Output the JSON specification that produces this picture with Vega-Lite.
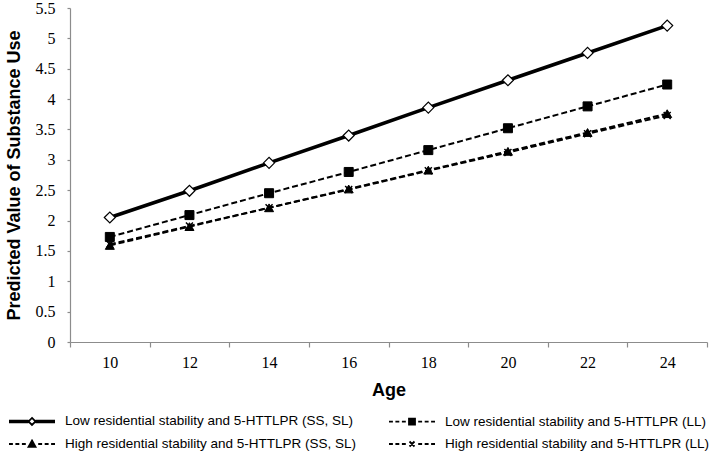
{
  "$schema": "https://vega.github.io/schema/vega-lite/v6.json",
  "autosize": "none",
  "width": 637,
  "height": 334,
  "padding": {"left": 70, "top": 8, "right": 7, "bottom": 114},
  "background": "white",
  "config": {
    "view": {"stroke": null},
    "axis": {
      "grid": false,
      "domainColor": "#8c8c8c",
      "tickColor": "#8c8c8c",
      "domainWidth": 1.2,
      "tickWidth": 1.2,
      "labelFont": "Liberation Serif",
      "labelFontSize": 16,
      "labelColor": "#000000",
      "titleFont": "Liberation Sans",
      "titleFontSize": 18,
      "titleFontWeight": "bold",
      "titleColor": "#000000"
    },
    "legend": {
      "title": null,
      "orient": "none",
      "direction": "horizontal",
      "legendX": -49,
      "legendY": 402,
      "columns": 2,
      "columnPadding": 28,
      "rowPadding": 4,
      "symbolSize": 400,
      "symbolStrokeWidth": 1.8,
      "symbolStrokeColor": "black",
      "labelFont": "Liberation Sans",
      "labelFontSize": 13.5,
      "labelColor": "#000000",
      "labelOffset": 22,
      "labelLimit": 400,
      "padding": 0
    }
  },
  "datasets": {
    "d": [
      {"age": 10, "value": 2.05, "series": "Low residential stability and 5-HTTLPR (SS, SL)"},
      {"age": 12, "value": 2.49, "series": "Low residential stability and 5-HTTLPR (SS, SL)"},
      {"age": 14, "value": 2.95, "series": "Low residential stability and 5-HTTLPR (SS, SL)"},
      {"age": 16, "value": 3.40, "series": "Low residential stability and 5-HTTLPR (SS, SL)"},
      {"age": 18, "value": 3.86, "series": "Low residential stability and 5-HTTLPR (SS, SL)"},
      {"age": 20, "value": 4.31, "series": "Low residential stability and 5-HTTLPR (SS, SL)"},
      {"age": 22, "value": 4.76, "series": "Low residential stability and 5-HTTLPR (SS, SL)"},
      {"age": 24, "value": 5.21, "series": "Low residential stability and 5-HTTLPR (SS, SL)"},
      {"age": 10, "value": 1.73, "series": "Low residential stability and 5-HTTLPR (LL)"},
      {"age": 12, "value": 2.09, "series": "Low residential stability and 5-HTTLPR (LL)"},
      {"age": 14, "value": 2.45, "series": "Low residential stability and 5-HTTLPR (LL)"},
      {"age": 16, "value": 2.80, "series": "Low residential stability and 5-HTTLPR (LL)"},
      {"age": 18, "value": 3.16, "series": "Low residential stability and 5-HTTLPR (LL)"},
      {"age": 20, "value": 3.52, "series": "Low residential stability and 5-HTTLPR (LL)"},
      {"age": 22, "value": 3.88, "series": "Low residential stability and 5-HTTLPR (LL)"},
      {"age": 24, "value": 4.24, "series": "Low residential stability and 5-HTTLPR (LL)"},
      {"age": 10, "value": 1.59, "series": "High residential stability and 5-HTTLPR (SS, SL)"},
      {"age": 12, "value": 1.90, "series": "High residential stability and 5-HTTLPR (SS, SL)"},
      {"age": 14, "value": 2.21, "series": "High residential stability and 5-HTTLPR (SS, SL)"},
      {"age": 16, "value": 2.52, "series": "High residential stability and 5-HTTLPR (SS, SL)"},
      {"age": 18, "value": 2.83, "series": "High residential stability and 5-HTTLPR (SS, SL)"},
      {"age": 20, "value": 3.14, "series": "High residential stability and 5-HTTLPR (SS, SL)"},
      {"age": 22, "value": 3.45, "series": "High residential stability and 5-HTTLPR (SS, SL)"},
      {"age": 24, "value": 3.76, "series": "High residential stability and 5-HTTLPR (SS, SL)"},
      {"age": 10, "value": 1.61, "series": "High residential stability and 5-HTTLPR (LL)"},
      {"age": 12, "value": 1.91, "series": "High residential stability and 5-HTTLPR (LL)"},
      {"age": 14, "value": 2.21, "series": "High residential stability and 5-HTTLPR (LL)"},
      {"age": 16, "value": 2.51, "series": "High residential stability and 5-HTTLPR (LL)"},
      {"age": 18, "value": 2.82, "series": "High residential stability and 5-HTTLPR (LL)"},
      {"age": 20, "value": 3.12, "series": "High residential stability and 5-HTTLPR (LL)"},
      {"age": 22, "value": 3.43, "series": "High residential stability and 5-HTTLPR (LL)"},
      {"age": 24, "value": 3.73, "series": "High residential stability and 5-HTTLPR (LL)"}
    ]
  },
  "data": {"name": "d"},
  "encoding": {
    "x": {
      "field": "age",
      "type": "quantitative",
      "scale": {"domain": [9, 25], "nice": false, "zero": false},
      "axis": {
        "title": "Age",
        "values": [9, 10, 11, 12, 13, 14, 15, 16, 17, 18, 19, 20, 21, 22, 23, 24, 25],
        "labelExpr": "datum.value % 2 == 0 ? datum.label : ''",
        "tickOpacity": {"condition": {"test": "datum.value % 2 == 1", "value": 1}, "value": 0},
        "tickSize": 5,
        "labelPadding": 7,
        "titlePadding": 11
      }
    },
    "y": {
      "field": "value",
      "type": "quantitative",
      "scale": {"domain": [0, 5.5], "nice": false},
      "axis": {
        "title": "Predicted Value of Substance Use",
        "values": [0, 0.5, 1, 1.5, 2, 2.5, 3, 3.5, 4, 4.5, 5, 5.5],
        "format": "~g",
        "tickSize": 3,
        "labelPadding": 12,
        "titlePadding": 12
      }
    }
  },
  "layer": [
    {
      "transform": [{"filter": "datum.series != 'Low residential stability and 5-HTTLPR (SS, SL)'"}],
      "mark": {"type": "line", "color": "black", "strokeWidth": 2, "strokeDash": [6, 3]},
      "encoding": {"detail": {"field": "series"}}
    },
    {
      "transform": [{"filter": "datum.series == 'Low residential stability and 5-HTTLPR (SS, SL)'"}],
      "mark": {"type": "line", "color": "black", "strokeWidth": 3.6},
      "encoding": {}
    },
    {
      "transform": [{"filter": "datum.series == 'Low residential stability and 5-HTTLPR (SS, SL)'"}],
      "mark": {"type": "point", "shape": "diamond", "size": 121, "filled": true, "fill": "white", "stroke": "black", "strokeWidth": 1.2, "opacity": 1},
      "encoding": {}
    },
    {
      "transform": [{"filter": "datum.series == 'Low residential stability and 5-HTTLPR (LL)'"}],
      "mark": {"type": "point", "shape": "square", "size": 81, "filled": true, "fill": "black", "stroke": "black", "strokeWidth": 1, "opacity": 1},
      "encoding": {}
    },
    {
      "transform": [{"filter": "datum.series == 'High residential stability and 5-HTTLPR (SS, SL)'"}],
      "mark": {"type": "point", "shape": "triangle-up", "size": 81, "filled": true, "fill": "black", "stroke": "black", "strokeWidth": 1, "opacity": 1},
      "encoding": {}
    },
    {
      "transform": [{"filter": "datum.series == 'High residential stability and 5-HTTLPR (LL)'"}],
      "mark": {"type": "point", "shape": "M-1,-1L1,1M1,-1L-1,1", "size": 49, "filled": false, "stroke": "black", "strokeWidth": 1.5, "opacity": 1},
      "encoding": {}
    },
    {
      "transform": [{"filter": "false"}],
      "mark": {"type": "point", "filled": true, "strokeWidth": 1.8, "opacity": 1},
      "encoding": {
        "x": {"field": "age", "type": "quantitative"},
        "y": {"field": "value", "type": "quantitative"},
        "shape": {
          "field": "series",
          "type": "nominal",
          "scale": {
            "domain": [
              "Low residential stability and 5-HTTLPR (SS, SL)",
              "Low residential stability and 5-HTTLPR (LL)",
              "High residential stability and 5-HTTLPR (SS, SL)",
              "High residential stability and 5-HTTLPR (LL)"
            ],
            "range": [
              "M-2.3,-0.09L-0.35,-0.09M-2.3,0L-0.35,0M-2.3,0.09L-0.35,0.09M0.35,-0.09L2.3,-0.09M0.35,0L2.3,0M0.35,0.09L2.3,0.09M0,-0.35L0.35,0L0,0.35L-0.35,0Z",
              "M-2.3,0L-1.91,0M-1.66,0L-1.27,0M-1.01,0L-0.62,0M0.62,0L1.01,0M1.27,0L1.66,0M1.91,0L2.3,0M-0.3,-0.3L0.3,-0.3L0.3,0.3L-0.3,0.3Z",
              "M-2.3,0L-1.91,0M-1.66,0L-1.27,0M-1.01,0L-0.62,0M0.62,0L1.01,0M1.27,0L1.66,0M1.91,0L2.3,0M0,-0.35L0.35,0.28L-0.35,0.28Z",
              "M-2.3,0L-1.91,0M-1.66,0L-1.27,0M-1.01,0L-0.62,0M0.62,0L1.01,0M1.27,0L1.66,0M1.91,0L2.3,0M-0.25,-0.25L0.25,0.25M0.25,-0.25L-0.25,0.25"
            ]
          }
        },
        "fill": {
          "field": "series",
          "type": "nominal",
          "scale": {
            "domain": [
              "Low residential stability and 5-HTTLPR (SS, SL)",
              "Low residential stability and 5-HTTLPR (LL)",
              "High residential stability and 5-HTTLPR (SS, SL)",
              "High residential stability and 5-HTTLPR (LL)"
            ],
            "range": ["white", "black", "black", "black"]
          }
        },
        "stroke": {
          "field": "series",
          "type": "nominal",
          "scale": {
            "domain": [
              "Low residential stability and 5-HTTLPR (SS, SL)",
              "Low residential stability and 5-HTTLPR (LL)",
              "High residential stability and 5-HTTLPR (SS, SL)",
              "High residential stability and 5-HTTLPR (LL)"
            ],
            "range": ["black", "black", "black", "black"]
          }
        }
      }
    }
  ]
}
